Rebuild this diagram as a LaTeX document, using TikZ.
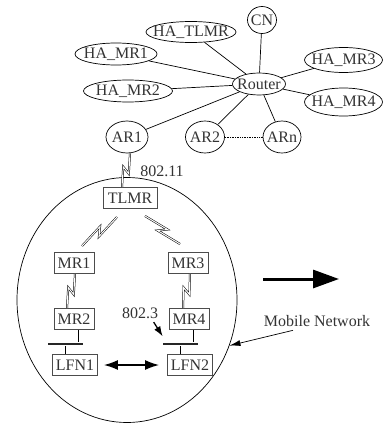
\documentclass[tikz,border=0pt]{standalone}
\usepackage{fontspec}
\setmainfont{Liberation Serif}
\usetikzlibrary{arrows.meta,positioning,calc,shapes.geometric}

\tikzset{
  host/.style={ellipse, draw, inner sep=0pt},
  mr/.style={rectangle, draw=black!70, inner xsep=3.5pt, minimum height=21pt},
  busbar/.style={rectangle, fill=black!85, inner sep=0pt, minimum width=35pt, minimum height=2.6pt},
  wireless/.style={draw, line width=0.5pt, double, double distance=1pt, line join=miter},
}
\newcommand{\hw}[1]{\makebox[0pt]{#1}}
\newcommand{\zigzag}[2]{\draw[wireless] (#1) -- ($(#1)!0.58!(#2)!3.5pt!90:(#2)$) -- ($(#1)!0.42!(#2)!3.5pt!-90:(#2)$) -- (#2);}

\begin{document}
\begin{tikzpicture}[x=1pt, y=-1pt, line width=0.7pt, font=\fontsize{16}{19}\selectfont, text=black!80]
    \useasboundingbox (0,0) rectangle (383,428);

    % home network side
    \node[host, minimum width=53pt, minimum height=22pt] (router) at (259,84) {\hw{Router}};
    \node[host, minimum width=29pt, minimum height=27pt] (cn) at (262,20) {\hw{CN}};
    \node[host, minimum width=90pt, minimum height=21pt] (hatlmr) at (191,32) {\hw{HA\_TLMR}};
    \node[host, minimum width=82pt, minimum height=22pt] (hamr1) at (116,54) {\hw{HA\_MR1}};
    \node[host, minimum width=89pt, minimum height=22pt] (hamr2) at (128,91) {\hw{HA\_MR2}};
    \node[host, minimum width=78pt, minimum height=25pt] (hamr3) at (343.5,60) {\hw{HA\_MR3}};
    \node[host, minimum width=78pt, minimum height=28pt] (hamr4) at (343.5,102) {\hw{HA\_MR4}};
    \node[host, minimum width=42pt, minimum height=32pt] (ar1) at (127,137) {\hw{AR1}};
    \node[host, minimum width=39pt, minimum height=32pt] (ar2) at (205,137) {\hw{AR2}};
    \node[host, minimum width=38pt, minimum height=32pt] (arn) at (282,137) {\hw{ARn}};

    \foreach \n in {cn,hatlmr,hamr1,hamr2,hamr3,hamr4,ar1,ar2,arn}
        \draw (router) -- (\n);
    \draw[densely dotted] (ar2) -- (arn);

    % mobile network
    \node[draw, ellipse, inner sep=0pt, minimum width=220pt, minimum height=245pt] (mnet) at (127,300) {};
    \node[mr, minimum width=54pt] (tlmr) at (130,198) {TLMR};
    \node[mr] (mr1) at (74,263) {MR1};
    \node[mr] (mr3) at (188,263) {MR3};
    \node[mr] (mr2) at (74,319) {MR2};
    \node[mr] (mr4) at (189,319) {MR4};
    \node[mr] (lfn1) at (75,365) {LFN1};
    \node[mr] (lfn2) at (190,365) {LFN2};
    \node[busbar] (bus1) at (65.5,344) {};
    \node[busbar] (bus2) at (180.5,344) {};

    \draw ([xshift=4.5pt]mr2.south) -- ([xshift=4.5pt]mr2.south |- bus1.north);
    \draw ([xshift=-10pt]lfn1.north) -- ([xshift=-10pt]lfn1.north |- bus1.south);
    \draw ([xshift=4.5pt]mr4.south) -- ([xshift=4.5pt]mr4.south |- bus2.north);
    \draw ([xshift=-10pt]lfn2.north) -- ([xshift=-10pt]lfn2.north |- bus2.south);

    % wireless links
    \coordinate (z0a) at ([xshift=3pt]ar1.south);
    \coordinate (z0b) at ([xshift=-8pt]tlmr.north);
    \coordinate (z1a) at (117,217);
    \coordinate (z1b) at (82,246);
    \coordinate (z2a) at (145,216);
    \coordinate (z2b) at (180,244);
    \coordinate (z3a) at ([xshift=1pt]mr1.south);
    \coordinate (z3b) at ([xshift=-7pt]mr2.north);
    \coordinate (z4a) at ([xshift=2pt]mr3.south);
    \coordinate (z4b) at ([xshift=-6pt]mr4.north);
    \foreach \a/\b in {z0a/z0b,z1a/z1b,z2a/z2b,z3a/z3b,z4a/z4b}
        {\zigzag{\a}{\b}}

    \node (l80211) at (162,171) {802.11};
    \node (l8023) at (140,313) {802.3};
    \draw[-{Latex[length=10pt,width=7pt]}, line width=1.3pt] ([xshift=-8pt]l8023.south east) -- ([yshift=6pt]bus2.north west);

    \draw[{Latex[length=14pt,width=10pt]}-{Latex[length=14pt,width=10pt]}, line width=1.3pt, shorten <=6pt, shorten >=8pt] (lfn1) -- (lfn2);

    \node (mobnet) at (317,321) {Mobile Network};
    \draw[-{Latex[length=11pt,width=6pt]}] ([xshift=-24pt]mobnet.south) -- (mnet.-24);

    \coordinate (bigtail) at (263,279);
    \coordinate (bighead) at (339,279);
    \draw[-{Triangle[length=26pt,width=18pt]}, line width=3pt] (bigtail) -- (bighead);
\end{tikzpicture}
\end{document}
